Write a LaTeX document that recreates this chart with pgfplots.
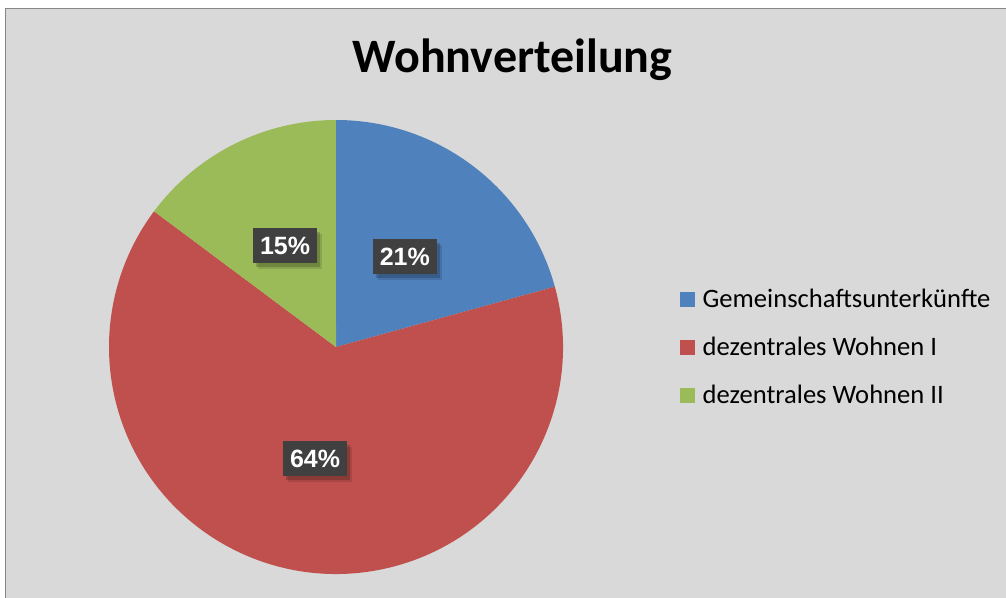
\documentclass[border=0pt]{standalone}
\usepackage{pgfplots}
\usepackage{pgfplotstable}
\pgfplotsset{compat=1.18}
\usetikzlibrary{shadows}
\usepackage{fontspec}
\setmainfont{Carlito}
\newfontfamily\arialfont{Liberation Sans}

\definecolor{blueS}{HTML}{4F81BD}
\definecolor{redS}{HTML}{C0504D}
\definecolor{greenS}{HTML}{9BBB59}
\definecolor{bgG}{HTML}{D9D9D9}
\definecolor{bdG}{HTML}{868686}
\definecolor{lblG}{HTML}{404040}

\tikzset{lbl/.style={fill=lblG, text=white, inner sep=0pt, minimum width=64bp, minimum height=35bp,
    font=\arialfont\bfseries\fontsize{25bp}{28bp}\selectfont,
    drop shadow={shadow xshift=5bp, shadow yshift=-6bp, opacity=0.12, fill=black},
    drop shadow={shadow xshift=3bp, shadow yshift=-4bp, opacity=0.18, fill=black}}}

\pgfplotstableread[col sep=comma]{
name,value
Gemeinschaftsunterkünfte,20.72
dezentrales Wohnen I,64.48
dezentrales Wohnen II,14.80
}\piedata

\begin{document}
\begin{tikzpicture}
\pgfplotstablegetelem{0}{value}\of\piedata \let\va\pgfplotsretval
\pgfplotstablegetelem{1}{value}\of\piedata \let\vb\pgfplotsretval
\pgfplotstablegetelem{2}{value}\of\piedata \let\vc\pgfplotsretval
\pgfmathsetmacro{\tot}{\va+\vb+\vc}
\pgfmathsetmacro{\aA}{90}
\pgfmathsetmacro{\aB}{\aA-(\va/\tot)*360}
\pgfmathsetmacro{\aC}{\aB-(\vb/\tot)*360}
\pgfmathsetmacro{\aD}{\aC-(\vc/\tot)*360}
\pgfmathsetmacro{\mA}{(\aA+\aB)/2}
\pgfmathsetmacro{\mB}{(\aB+\aC)/2}
\pgfmathsetmacro{\mC}{(\aC+\aD)/2}
\def\cx{336}\def\cy{251}\def\R{227}\def\rl{113.5}
\pgfmathsetmacro{\xA}{\cx+\rl*cos(\mA)}\pgfmathsetmacro{\yA}{\cy+\rl*sin(\mA)}
\pgfmathsetmacro{\xB}{\cx+\rl*cos(\mB)}\pgfmathsetmacro{\yB}{\cy+\rl*sin(\mB)}
\pgfmathsetmacro{\xC}{\cx+\rl*cos(\mC)}\pgfmathsetmacro{\yC}{\cy+\rl*sin(\mC)}

\useasboundingbox (0,0) rectangle (1006bp,598bp);
\fill[white] (0,0) rectangle (1006bp,598bp);
\filldraw[fill=bgG, draw=bdG, line width=1.5bp] (5.5bp,-5bp) rectangle (1012bp,589.5bp);

\begin{axis}[
  at={(0,0)}, anchor=south west,
  x=1bp, y=1bp, scale only axis,
  xmin=0, xmax=1006, ymin=0, ymax=598,
  hide axis, clip=false,
  legend image code/.code={\fill[#1] (0bp,-7.5bp) rectangle (15bp,7.5bp);},
  legend cell align=left,
  legend style={at={(0.67594,0.51338)}, anchor=north west, draw=none, fill=none,
    inner sep=0pt, row sep=32bp, column sep=7.5bp,
    font=\fontsize{26.6bp}{30bp}\selectfont,
    nodes={inner sep=0pt, text height=16bp, text depth=0bp}},
]
\fill[blueS] (axis cs:\cx,\cy) -- ++(\aA:\R bp) arc[start angle=\aA, end angle=\aB, radius=\R bp] -- cycle;
\fill[redS] (axis cs:\cx,\cy) -- ++(\aB:\R bp) arc[start angle=\aB, end angle=\aC, radius=\R bp] -- cycle;
\fill[greenS] (axis cs:\cx,\cy) -- ++(\aC:\R bp) arc[start angle=\aC, end angle=\aD, radius=\R bp] -- cycle;
\node[lbl] at (axis cs:\xA,\yA) {\pgfmathprintnumber[fixed,precision=0,assume math mode=true]{\va}\%};
\node[lbl] at (axis cs:\xB,\yB) {\pgfmathprintnumber[fixed,precision=0,assume math mode=true]{\vb}\%};
\node[lbl] at (axis cs:\xC,\yC) {\pgfmathprintnumber[fixed,precision=0,assume math mode=true]{\vc}\%};
\node[anchor=base, font=\bfseries\fontsize{48bp}{54bp}\selectfont, inner sep=0pt] at (axis cs:512.5,525.3) {Wohnverteilung};
\addlegendimage{fill=blueS, draw=none}
\addlegendentry{Gemeinschaftsunterkünfte}
\addlegendimage{fill=redS, draw=none}
\addlegendentry{dezentrales Wohnen I}
\addlegendimage{fill=greenS, draw=none}
\addlegendentry{dezentrales Wohnen II}
\end{axis}
\end{tikzpicture}
\end{document}
